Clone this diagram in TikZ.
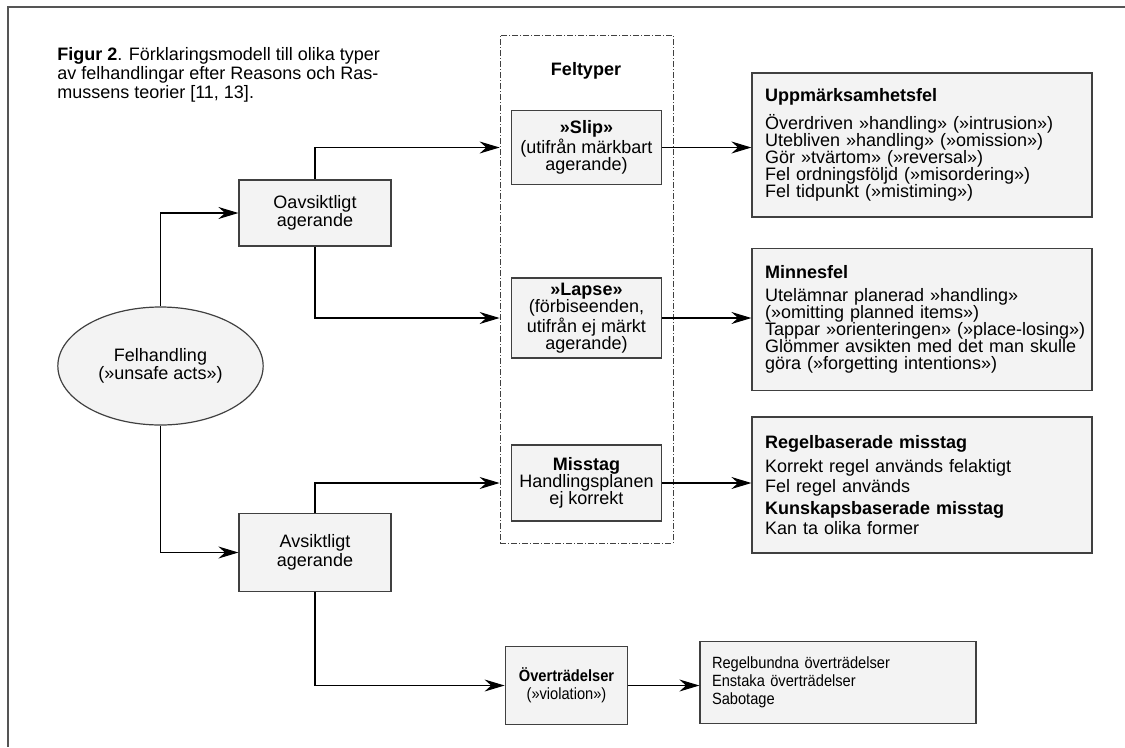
\documentclass[tikz,border=0pt]{standalone}
\usepackage{fontspec}
\setmainfont{Liberation Sans}
\newfontfamily\narrowsans[FakeStretch=0.9]{Liberation Sans}
\usetikzlibrary{arrows.meta, positioning, shapes.geometric}
\definecolor{boxgray}{RGB}{243,243,243}
\definecolor{edgegray}{RGB}{64,64,64}
\definecolor{framegray}{RGB}{85,85,85}

\begin{document}
\begin{tikzpicture}[
    x=0.75pt, y=-0.75pt,
    font=\fontsize{13.5}{14}\selectfont,
    block/.style={rectangle, draw=edgegray, fill=boxgray, line width=0.9pt,
                  align=center, inner sep=2pt},
    typebox/.style={block, minimum width=113pt, font=\fontsize{13.5}{13}\selectfont},
    listbox/.style={block, align=left, inner xsep=9.75pt, text width=235.5pt,
                    font=\fontsize{13.5}{12.75}\selectfont},
    smallbox/.style={block, font=\narrowsans\fontsize{12.2}{13.5}\selectfont},
    colbox/.style={draw=edgegray, line width=0.6pt,
                   dash pattern=on 4.5pt off 1.5pt on 0.75pt off 1.5pt},
    arrow/.style={-{Stealth[length=15pt, width=9pt, inset=5pt]}, line width=0.8pt}
]
    \useasboundingbox (0,0) rectangle (1125,747);
    \draw[framegray, line width=1.6pt] (1125,7) -- (8,7) -- (8,747);

    \node[align=left, anchor=north west, inner sep=0pt,
          font=\fontsize{13.5}{14.25}\selectfont] (caption) at (57,47)
        {\textbf{Figur 2}. Förklaringsmodell till olika typer\\
         av felhandlingar efter Reasons och Ras-\\
         mussens teorier [11, 13].};

    % feltyper column
    \node[colbox, minimum width=129.75pt, minimum height=381pt] (col) at (586.5,289) {};
    \node[font=\fontsize{13.5}{14}\bfseries] (feltyper) at (586,71) {Feltyper};
    \node[typebox, minimum height=55pt] (slip) at (586.5,147.5)
        {\textbf{»Slip»}\\(utifrån märkbart\\agerande)};
    \node[typebox, minimum height=60pt] (lapse) at (586.5,318)
        {\textbf{»Lapse»}\\(förbiseenden,\\utifrån ej märkt\\agerande)};
    \node[typebox, minimum height=57pt] (misstag) at (586.5,483)
        {\textbf{Misstag}\\Handlingsplanen\\ej korrekt};
    \node[smallbox, minimum width=92pt, minimum height=58pt] (over) at (566.5,685.5)
        {\textbf{Överträdelser}\\(»violation»)};

    % left side
    \node[ellipse, draw=edgegray, fill=boxgray, line width=0.9pt, align=center,
          minimum width=154pt, minimum height=88.5pt] (felh) at (160.5,366)
        {Felhandling\\(»unsafe acts»)};
    \node[block, minimum width=114pt, minimum height=49.5pt] (oavs) at (315,213)
        {Oavsiktligt\\agerande};
    \node[block, minimum width=114pt, minimum height=58pt] (avs) at (315,552.5)
        {Avsiktligt\\agerande};

    % right side
    \node[listbox, minimum height=108pt] (upp) at (922,145)
        {\textbf{Uppmärksamhetsfel}\\[6pt]
         Överdriven »handling» (»intrusion»)\\
         Utebliven »handling» (»omission»)\\
         Gör »tvärtom» (»reversal»)\\
         Fel ordningsföljd (»misordering»)\\
         Fel tidpunkt (»mistiming»)};
    \node[listbox, minimum height=106pt] (minne) at (922,319.5)
        {\textbf{Minnesfel}\\[5pt]
         Utelämnar planerad »handling»\\
         (»omitting planned items»)\\
         \mbox{Tappar »orienteringen» (»place-losing»)}\\
         Glömmer avsikten med det man skulle\\
         göra (»forgetting intentions»)};
    \node[listbox, minimum height=102pt] (regel) at (922,485)
        {\textbf{Regelbaserade misstag}\\[5pt]
         Korrekt regel används felaktigt\\[2pt]
         Fel regel används\\[4pt]
         \textbf{Kunskapsbaserade misstag}\\[2pt]
         Kan ta olika former};
    \node[smallbox, align=left, inner xsep=9pt, text width=189pt,
          minimum height=61pt] (regelb) at (838,682.5)
        {Regelbundna överträdelser\\
         Enstaka överträdelser\\
         Sabotage};

    \draw[arrow] (felh.north) |- (oavs.west);
    \draw[arrow] (felh.south) |- (avs.west);
    \draw[arrow] (oavs.north) |- (slip.west -| col.west);
    \draw[arrow] (oavs.south) |- (lapse.west -| col.west);
    \draw[arrow] (avs.north) |- (misstag.west -| col.west);
    \draw[arrow] (avs.south) |- (over.west);
    \draw[arrow] (slip.east) -- (slip.east -| upp.west);
    \draw[arrow] (lapse.east) -- (lapse.east -| minne.west);
    \draw[arrow] (misstag.east) -- (misstag.east -| regel.west);
    \draw[arrow] (over.east) -- (over.east -| regelb.west);
\end{tikzpicture}
\end{document}
